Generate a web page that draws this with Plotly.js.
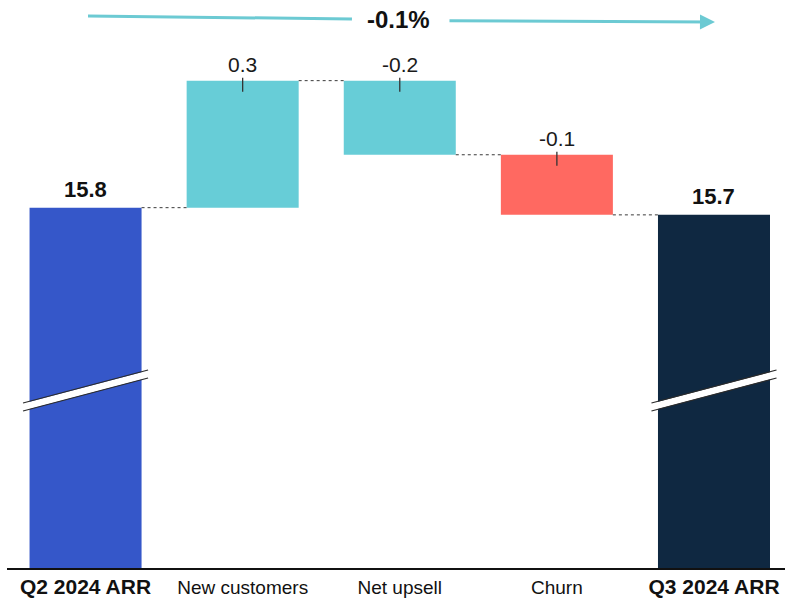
<!DOCTYPE html>
<html>
<head>
<meta charset="utf-8">
<script src="https://cdn.plot.ly/plotly-3.0.1.min.js"></script>
<style>
  html, body { margin: 0; padding: 0; background: #ffffff; }
  #chart { width: 786px; height: 600px; }
</style>
</head>
<body>
<div id="chart"></div>
<script>
// ARR bridge, Q2 2024 -> Q3 2024 (values in $M)
const categories = ['Q2 2024 ARR', 'New customers', 'Net upsell', 'Churn', 'Q3 2024 ARR'];
const measures   = ['absolute', 'relative', 'relative', 'relative', 'total'];
const values     = [15.76, 0.30, -0.175, -0.142, null];
const barColors  = ['#3557C9', '#67CDD7', '#67CDD7', '#FF6961', '#0F2841'];

// Walk the bridge: each bar gets a base and a signed length
const bases = [], lengths = [], levels = [];
let running = 0;
values.forEach((v, i) => {
  if (measures[i] === 'absolute') { running = v; bases.push(0); lengths.push(v); }
  else if (measures[i] === 'relative') { bases.push(running); lengths.push(v); running += v; }
  else { bases.push(0); lengths.push(running); }
  levels.push(running);
});
const startTotal = levels[0];
const endTotal = levels[levels.length - 1];
const pctChange = (endTotal / startTotal - 1) * 100;

const xs = categories.map((_, i) => i);
const BAR_W = 0.713;
const FONT = 'Liberation Sans, Arial, sans-serif';

const traces = [{
  type: 'bar',
  x: xs,
  y: lengths,
  base: bases,
  width: BAR_W,
  marker: { color: barColors, line: { width: 0 } },
  hoverinfo: 'skip',
  showlegend: false
}];

// dotted connectors between neighbouring bars
for (let i = 0; i < xs.length - 1; i++) {
  traces.push({
    type: 'scatter', mode: 'lines',
    x: [xs[i] + BAR_W / 2, xs[i + 1] - BAR_W / 2],
    y: [levels[i], levels[i]],
    line: { color: '#3a3a3a', width: 1, dash: 'dot' },
    hoverinfo: 'skip', showlegend: false
  });
}

const annotations = [];
const shapes = [];

xs.forEach((x, i) => {
  const top = Math.max(bases[i], bases[i] + lengths[i]);
  if (measures[i] === 'relative') {
    annotations.push({
      x: x, y: top, xref: 'x', yref: 'y', yanchor: 'bottom', yshift: 3,
      text: values[i].toFixed(1), showarrow: false,
      font: { family: FONT, size: 21, color: '#1a1a1a' }
    });
    // small tick marker at the top of each change bar
    shapes.push({
      type: 'line', xref: 'x', yref: 'y', ysizemode: 'pixel', yanchor: top,
      x0: x, x1: x, y0: -11, y1: 3,
      line: { color: '#333333', width: 1.3 }
    });
  } else {
    annotations.push({
      x: x, y: top, xref: 'x', yref: 'y', yanchor: 'bottom', yshift: 4,
      text: '<b>' + lengths[i].toFixed(1) + '</b>', showarrow: false,
      font: { family: FONT, size: 22, color: '#111111' }
    });
    // axis-break slash across the total bars
    const xl = x - 0.398, xr = x + 0.398;
    shapes.push({ type: 'line', xref: 'x', yref: 'paper', x0: xl, x1: xr, y0: 0.3049, y1: 0.3674,
      line: { color: '#ffffff', width: 7 } });
    shapes.push({ type: 'line', xref: 'x', yref: 'paper', x0: xl, x1: xr, y0: 0.3125, y1: 0.3750,
      line: { color: '#2b2b2b', width: 1.2 } });
    shapes.push({ type: 'line', xref: 'x', yref: 'paper', x0: xl, x1: xr, y0: 0.2973, y1: 0.3598,
      line: { color: '#2b2b2b', width: 1.2 } });
  }
});

// overall change banner with arrow
const ARROW = '#6CCAD3';
shapes.push({ type: 'line', xref: 'paper', yref: 'paper', x0: 0.1041, y0: 1.0455, x1: 0.4434, y1: 1.0398,
  line: { color: ARROW, width: 3 } });
annotations.push({
  x: 0.9100, y: 1.0341, xref: 'paper', yref: 'paper',
  ax: -267, ay: -1.3, showarrow: true, text: '',
  arrowcolor: ARROW, arrowwidth: 3, arrowhead: 2, arrowsize: 1
});
annotations.push({
  x: 0.5026, y: 1.0379, xref: 'paper', yref: 'paper', xanchor: 'center', yanchor: 'middle',
  showarrow: false,
  text: '<b>' + pctChange.toFixed(1) + '%</b>',
  font: { family: FONT, size: 24, color: '#111111' }
});

const tickText = categories.map((c, i) =>
  measures[i] === 'relative' ? c : '<b><span style="font-size:21px">' + c + '</span></b>');

const layout = {
  width: 786, height: 600,
  margin: { l: 7, r: 1, t: 40, b: 32 },
  paper_bgcolor: '#ffffff', plot_bgcolor: '#ffffff',
  showlegend: false,
  font: { family: FONT, color: '#111111' },
  xaxis: {
    range: [-0.5, 4.452],
    tickvals: xs, ticktext: tickText,
    tickfont: { family: FONT, size: 19, color: '#111111' },
    ticklabelstandoff: 2,
    showline: true, linecolor: '#111111', linewidth: 1.5,
    showgrid: false, zeroline: false, ticks: '', fixedrange: true
  },
  yaxis: {
    range: [14.909, 16.156],
    showticklabels: false, showgrid: false, zeroline: false, showline: false,
    ticks: '', fixedrange: true
  },
  shapes: shapes,
  annotations: annotations
};

Plotly.newPlot('chart', traces, layout, { displayModeBar: false, staticPlot: true });
</script>
</body>
</html>
